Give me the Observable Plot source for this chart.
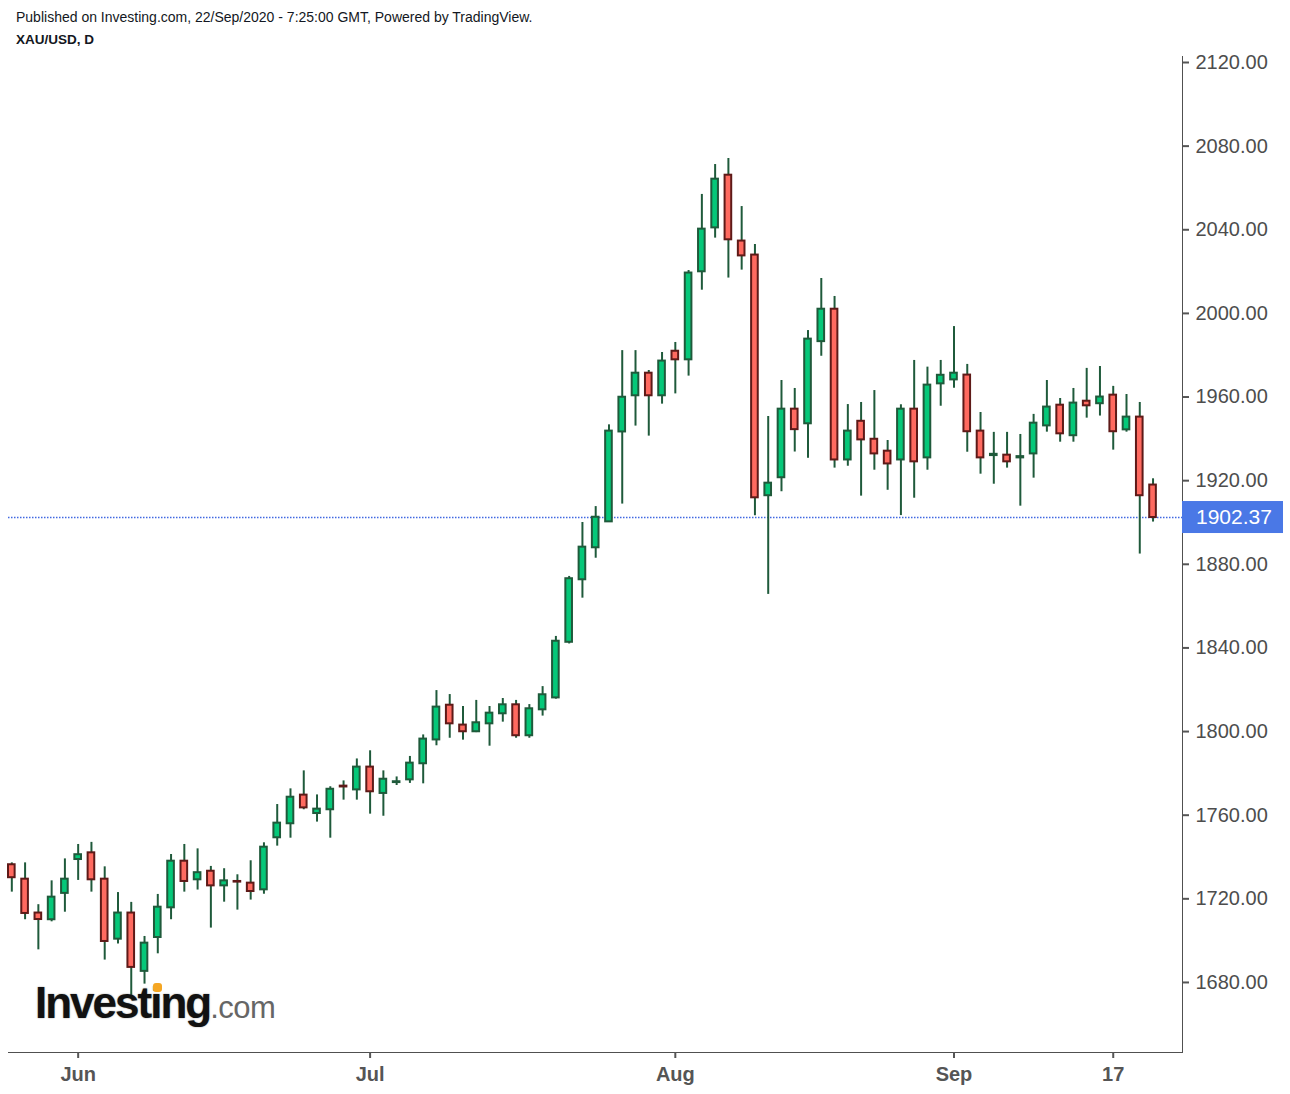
<!DOCTYPE html>
<html>
<head>
<meta charset="utf-8">
<script src="https://cdn.jsdelivr.net/npm/d3@7"></script>
<script src="https://cdn.jsdelivr.net/npm/@observablehq/plot@0.6"></script>
<style>
html, body { margin: 0; padding: 0; background: #fff; }
body { width: 1290px; height: 1094px; position: relative; overflow: hidden; font-family: "Liberation Sans", Arial, sans-serif; }
#pub { position: absolute; left: 16px; top: 9px; font-size: 14px; color: #131722; white-space: nowrap; }
#sym { position: absolute; left: 16px; top: 32px; font-size: 13.5px; font-weight: bold; color: #131722; white-space: nowrap; }
#chart { position: absolute; left: 0; top: 56px; }
#chart svg { overflow: visible; font-family: "Liberation Sans", Arial, sans-serif; color: #505050; }
#chart svg g[aria-label^="x-axis"] text { font-size: 20px; font-weight: bold; fill: #555; }
#chart svg g[aria-label^="y-axis"] text { font-size: 20px; fill: #4d4d4d; }
#chart svg g[aria-label^="x-axis"] path, #chart svg g[aria-label^="x-axis"] line,
#chart svg g[aria-label^="y-axis"] path, #chart svg g[aria-label^="y-axis"] line { stroke-width: 2px; stroke: #555; }
#logo { position: absolute; left: 35px; top: 981px; line-height: 44px; white-space: nowrap; z-index: 2; }
#logo .inv { font-size: 44px; font-weight: bold; letter-spacing: -2px; color: #111; text-shadow: 0 0 1.5px rgba(0,0,0,0.5); }
#logo .com { font-size: 31px; color: #666; letter-spacing: -0.5px; }
#dot { position: absolute; left: 153px; top: 983px; width: 9px; height: 9px; border-radius: 3px; background: #f5a623; z-index: 3; }
</style>
</head>
<body>
<div id="pub">Published on Investing.com, 22/Sep/2020 - 7:25:00 GMT, Powered by TradingView.</div>
<div id="sym">XAU/USD, D</div>
<div id="chart"></div>
<div id="logo"><span class="inv">Investing</span><span class="com">.com</span></div>
<div id="dot"></div>
<script>
// Trading days (daily candles)
const dates = [
  "2020-05-25","2020-05-26","2020-05-27","2020-05-28","2020-05-29",
  "2020-06-01","2020-06-02","2020-06-03","2020-06-04","2020-06-05",
  "2020-06-08","2020-06-09","2020-06-10","2020-06-11","2020-06-12",
  "2020-06-15","2020-06-16","2020-06-17","2020-06-18","2020-06-19",
  "2020-06-22","2020-06-23","2020-06-24","2020-06-25","2020-06-26",
  "2020-06-29","2020-06-30",
  "2020-07-01","2020-07-02","2020-07-03",
  "2020-07-06","2020-07-07","2020-07-08","2020-07-09","2020-07-10",
  "2020-07-13","2020-07-14","2020-07-15","2020-07-16","2020-07-17",
  "2020-07-20","2020-07-21","2020-07-22","2020-07-23","2020-07-24",
  "2020-07-27","2020-07-28","2020-07-29","2020-07-30","2020-07-31",
  "2020-08-03","2020-08-04","2020-08-05","2020-08-06","2020-08-07",
  "2020-08-10","2020-08-11","2020-08-12","2020-08-13","2020-08-14",
  "2020-08-17","2020-08-18","2020-08-19","2020-08-20","2020-08-21",
  "2020-08-24","2020-08-25","2020-08-26","2020-08-27","2020-08-28",
  "2020-08-31",
  "2020-09-01","2020-09-02","2020-09-03","2020-09-04",
  "2020-09-07","2020-09-08","2020-09-09","2020-09-10","2020-09-11",
  "2020-09-14","2020-09-15","2020-09-16","2020-09-17","2020-09-18",
  "2020-09-21","2020-09-22"
];
const open = [
  1736.3,1729.4,1713.2,1710.0,1722.6,
  1738.8,1742.0,1729.4,1700.7,1713.2,
  1685.3,1701.5,1715.7,1738.0,1729.1,
  1733.2,1726.2,1728.3,1727.5,1724.3,
  1749.2,1755.9,1769.6,1760.8,1762.6,
  1773.9,1772.1,
  1783.0,1770.4,1775.6,
  1776.9,1784.6,1796.0,1812.6,1803.1,
  1799.9,1803.7,1808.5,1812.8,1798.0,
  1810.4,1816.1,1842.7,1872.6,1887.9,
  1900.3,1943.3,1960.6,1971.4,1960.6,
  1981.9,1977.8,2019.9,2040.9,2066.1,
  2034.6,2027.9,1912.8,1921.4,1954.2,
  1947.2,1986.5,2002.0,1929.9,1948.4,
  1939.8,1934.1,1929.9,1954.2,1930.9,
  1966.3,
  1968.2,1970.5,1943.7,1932.0,
  1932.2,1930.9,1932.8,1946.2,1956.1,
  1941.5,1958.0,1956.8,1960.9,1944.3,
  1950.4,1917.9
];
const high = [
  1737.2,1737.2,1717.2,1728.6,1739.1,
  1746.0,1747.0,1735.3,1723.0,1718.3,
  1702.0,1722.1,1741.2,1746.0,1743.9,
  1735.5,1734.4,1731.5,1738.2,1746.8,
  1765.1,1772.6,1781.2,1769.7,1773.6,
  1776.4,1786.9,
  1790.8,1781.2,1778.3,
  1788.1,1798.4,1819.6,1817.7,1812.0,
  1814.9,1812.0,1815.8,1814.9,1812.9,
  1821.5,1845.5,1874.2,1900.0,1907.6,
  1946.7,1982.2,1982.2,1972.7,1981.3,
  1986.1,2020.5,2056.9,2071.2,2074.1,
  2051.1,2033.0,1950.7,1967.9,1964.1,
  1991.8,2016.7,2008.1,1956.4,1957.4,
  1963.1,1939.2,1956.3,1977.5,1974.3,
  1977.5,
  1993.7,1975.6,1952.6,1943.1,
  1943.1,1942.1,1951.7,1967.9,1959.3,
  1964.1,1973.7,1974.6,1965.1,1961.2,
  1957.4,1920.9
];
const low = [
  1723.2,1710.0,1695.6,1709.0,1713.6,
  1728.8,1723.2,1690.7,1698.4,1673.8,
  1679.2,1693.7,1710.0,1723.2,1724.2,
  1706.0,1718.4,1714.6,1719.4,1722.2,
  1745.2,1749.0,1762.6,1756.7,1749.0,
  1767.2,1767.2,
  1760.5,1759.5,1774.2,
  1775.2,1775.0,1793.2,1796.8,1795.9,
  1799.5,1793.0,1804.5,1796.8,1796.8,
  1807.4,1815.5,1841.9,1863.8,1882.9,
  1900.0,1908.8,1946.1,1941.3,1956.6,
  1961.5,1970.0,2011.1,2036.0,2016.9,
  2020.7,1903.2,1865.6,1914.7,1933.7,
  1930.7,1979.5,1926.0,1926.9,1912.6,
  1925.0,1915.4,1903.3,1911.6,1925.0,
  1955.6,
  1964.2,1933.6,1923.1,1918.3,
  1926.0,1907.8,1921.2,1943.2,1938.4,
  1938.4,1949.9,1950.9,1934.6,1943.2,
  1884.9,1900.2
];
const close = [
  1730.1,1713.0,1710.1,1720.8,1729.4,
  1741.1,1729.1,1699.6,1713.2,1687.2,
  1698.8,1716.0,1738.0,1728.3,1732.5,
  1726.2,1728.6,1728.0,1723.5,1744.7,
  1756.2,1768.6,1763.5,1762.9,1772.4,
  1773.5,1783.0,
  1771.2,1777.2,1776.0,
  1784.9,1796.4,1811.7,1803.7,1799.9,
  1804.2,1808.8,1812.8,1798.0,1810.9,
  1817.6,1843.2,1873.1,1888.2,1902.5,
  1943.7,1959.9,1971.4,1960.6,1977.2,
  1977.8,2019.3,2040.3,2064.2,2035.2,
  2027.5,1911.8,1918.8,1954.2,1944.4,
  1987.7,2002.0,1929.9,1943.7,1939.5,
  1932.8,1928.0,1954.2,1929.0,1965.7,
  1970.4,
  1971.4,1943.4,1930.9,1932.6,
  1929.0,1931.5,1947.5,1955.2,1942.4,
  1957.1,1955.8,1960.0,1943.4,1950.4,
  1912.8,1902.37
];
const xTickDates = ["2020-06-01","2020-07-01","2020-08-03","2020-09-01","2020-09-17"];
const xTickLabels = ["Jun","Jul","Aug","Sep","17"];
const yTicks = [1680,1720,1760,1800,1840,1880,1920,1960,2000,2040,2080,2120];
const lastPrice = 1902.37;

const rows = dates.map((d, i) => ({
  date: d, open: open[i], high: high[i], low: low[i], close: close[i],
  up: close[i] >= open[i]
}));

const W = 1290, H = 1038, ML = 8, MR = 108;
const plot = Plot.plot({
  width: W, height: H,
  marginLeft: ML, marginRight: MR, marginTop: 0, marginBottom: 42,
  style: { background: "white", overflow: "visible" },
  x: {
    type: "band", domain: dates, paddingInner: 0.5, paddingOuter: 0.985, align: 0, round: false,
    ticks: xTickDates, tickFormat: d => xTickLabels[xTickDates.indexOf(d)],
    tickSize: 6, tickPadding: 8, line: true, label: null
  },
  y: {
    domain: [1646.5, 2122.87], axis: "right", ticks: yTicks,
    tickFormat: d => d.toFixed(2), tickSize: 6, tickPadding: 7, line: true, label: null
  },
  color: { type: "identity" },
  marks: [
    Plot.ruleY([lastPrice], { stroke: "#4169e1", strokeDasharray: "1.5,1.5", strokeWidth: 1.5 }),
    Plot.ruleX(rows, { x: "date", y1: "low", y2: "high", stroke: "#1f5a3b", strokeWidth: 2 }),
    Plot.barY(rows, {
      x: "date", y1: "open", y2: "close",
      fill: d => d.up ? "#05c879" : "#ff6a60",
      stroke: d => d.up ? "#1f5a3b" : "#5e1a18",
      strokeWidth: 2
    })
  ]
});

// current price label on the right axis
const yPos = plot.scale("y").apply(lastPrice);
const svg = d3.select(plot);
const g = svg.append("g");
g.append("rect")
  .attr("x", W - MR).attr("y", yPos - 16)
  .attr("width", MR - 7).attr("height", 32)
  .attr("fill", "#4a78e6");
g.append("text")
  .attr("x", W - MR + 14).attr("y", yPos).attr("dy", "0.35em")
  .attr("text-anchor", "start")
  .attr("fill", "#ffffff").attr("font-size", 21)
  .attr("font-family", "Liberation Sans, Arial, sans-serif")
  .text(lastPrice.toFixed(2));

document.getElementById("chart").appendChild(plot);
</script>
</body>
</html>
